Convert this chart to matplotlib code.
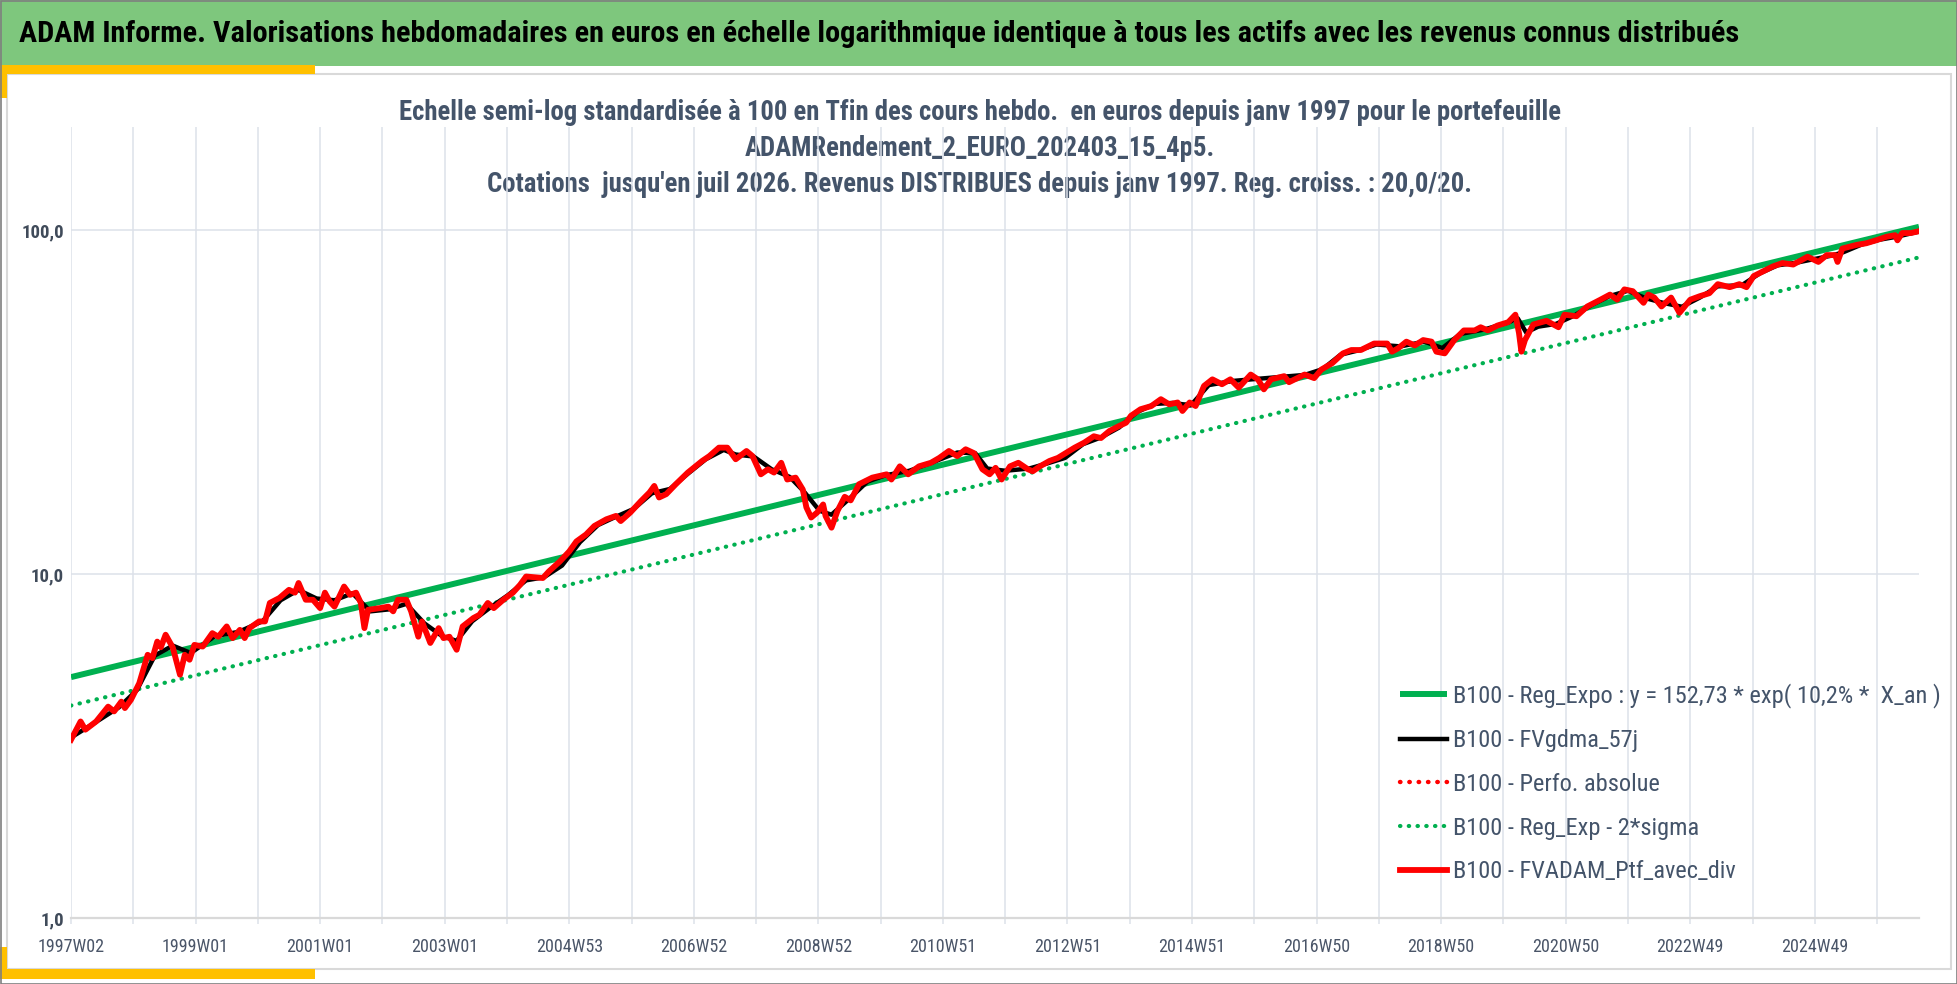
import matplotlib
matplotlib.use("Agg")
import matplotlib.pyplot as plt
from matplotlib import font_manager as fm
from matplotlib.font_manager import FontProperties
from matplotlib.patches import Rectangle
from matplotlib.ticker import FixedLocator, FuncFormatter, NullLocator

# ---------------- DATA ----------------
title_banner = ("ADAM Informe. Valorisations hebdomadaires en euros en échelle logarithmique "
                "identique à tous les actifs avec les revenus connus distribués")
subtitle_lines = [
    "Echelle semi-log standardisée à 100 en Tfin des cours hebdo.  en euros depuis janv 1997 pour le portefeuille",
    "ADAMRendement_2_EURO_202403_15_4p5.",
    "Cotations  jusqu'en juil 2026. Revenus DISTRIBUES depuis janv 1997. Reg. croiss. : 20,0/20.",
]
legend_labels = [
    "B100 - Reg_Expo : y = 152,73 * exp( 10,2% *  X_an )",
    "B100 - FVgdma_57j",
    "B100 - Perfo. absolue",
    "B100 - Reg_Exp - 2*sigma",
    "B100 - FVADAM_Ptf_avec_div",
]
x_tick_labels = ["1997W02", "1999W01", "2001W01", "2003W01", "2004W53", "2006W52",
                 "2008W52", "2010W51", "2012W51", "2014W51", "2016W50", "2018W50",
                 "2020W50", "2022W49", "2024W49"]
x_tick_pos = [0, 104, 208, 312, 416, 520, 624, 728, 832, 936, 1040, 1144, 1248, 1352, 1456]
x_grid_minor = [52, 156, 260, 364, 468, 572, 676, 780, 884, 988, 1092, 1196, 1300, 1404, 1508]
last_week = 1543

# regression (two ends of the straight line in log scale)
reg_idx = [0, 1543]
reg_val = [5.02, 102.5]
reg2s_val = [4.15, 83.5]

# FVADAM_Ptf_avec_div (week index, value)
red_idx = [0, 8, 12, 21, 31, 36, 42, 45, 50, 57, 64, 68, 72, 75, 79, 85, 91, 95, 99, 103,
           110, 118, 123, 130, 135, 141, 145, 149, 157, 162, 166, 174, 182, 187, 190, 196,
           202, 208, 212, 216, 220, 228, 233, 238, 242, 245, 248, 258, 265, 269, 273, 280,
           284, 290, 293, 300, 307, 311, 316, 322, 327, 336, 341, 348, 353, 361, 369, 375,
           380, 394, 399, 408, 416, 422, 430, 437, 447, 455, 459, 467, 476, 483, 487, 491,
           497, 505, 515, 527, 533, 541, 548, 555, 564, 569, 576, 582, 587, 593, 598, 605,
           611, 614, 618, 623, 628, 630, 635, 640, 646, 651, 658, 669, 681, 685, 692, 699,
           708, 718, 725, 733, 740, 747, 754, 761, 767, 772, 777, 784, 791, 799, 803, 809,
           817, 824, 838, 846, 854, 860, 867, 875, 881, 885, 893, 902, 910, 917, 924, 928,
           934, 939, 946, 953, 961, 968, 975, 985, 991, 996, 1002, 1013, 1017, 1030, 1038,
           1044, 1053, 1062, 1069, 1077, 1088, 1099, 1103, 1108, 1115, 1122, 1129, 1136,
           1140, 1147, 1155, 1163, 1172, 1177, 1183, 1191, 1200, 1206, 1209, 1211, 1214,
           1221, 1232, 1242, 1247, 1257, 1266, 1277, 1285, 1291, 1297, 1304, 1313, 1317,
           1322, 1328, 1336, 1343, 1352, 1360, 1368, 1375, 1385, 1393, 1399, 1405, 1413,
           1421, 1429, 1438, 1445, 1450, 1459, 1466, 1473, 1475, 1479, 1491, 1499, 1507,
           1516, 1523, 1525, 1529, 1536, 1543]
red_val = [3.30, 3.73, 3.53, 3.73, 4.12, 3.99, 4.26, 4.08, 4.31, 4.82, 5.83, 5.70, 6.37, 6.13,
           6.67, 6.12, 5.10, 5.83, 5.64, 6.23, 6.16, 6.74, 6.58, 7.05, 6.52, 6.89, 6.52, 6.97,
           7.29, 7.29, 8.25, 8.53, 9.01, 8.84, 9.43, 8.43, 8.43, 7.97, 8.84, 8.33, 8.05, 9.21,
           8.71, 8.84, 8.25, 6.97, 7.88, 7.97, 8.05, 7.80, 8.43, 8.43, 7.80, 6.58, 7.29, 6.31,
           6.97, 6.52, 6.58, 6.03, 7.05, 7.46, 7.62, 8.25, 7.97, 8.43, 8.84, 9.32, 9.85, 9.75,
           10.19, 10.88, 11.65, 12.46, 13.05, 13.82, 14.45, 14.78, 14.28, 15.12, 16.34, 17.29,
           18.07, 16.72, 17.10, 18.28, 19.76, 21.36, 22.07, 23.35, 23.35, 21.60, 22.83, 22.07,
           19.53, 20.20, 19.76, 21.10, 18.86, 19.10, 17.64, 15.65, 14.62, 15.12, 15.96, 14.78,
           13.66, 15.29, 16.80, 16.40, 18.28, 19.10, 19.53, 18.86, 20.60, 19.53, 20.60, 21.10,
           21.80, 22.83, 22.07, 23.10, 22.50, 20.20, 19.53, 20.40, 18.86, 20.60, 21.10, 20.20,
           19.93, 20.60, 21.36, 21.80, 23.35, 24.15, 25.20, 24.90, 26.10, 26.98, 27.60, 28.90,
           30.20, 30.85, 32.30, 31.20, 31.60, 29.85, 31.60, 30.85, 35.30, 36.90, 35.70, 36.90,
           34.90, 38.10, 36.90, 34.50, 36.90, 37.70, 36.20, 38.10, 37.20, 39.40, 41.10, 43.90,
           44.90, 44.90, 46.90, 46.90, 44.40, 45.40, 47.50, 46.30, 48.00, 47.50, 44.40, 43.90,
           48.00, 51.20, 51.20, 52.30, 51.20, 52.90, 54.10, 56.90, 50.30, 44.40, 48.00, 53.30,
           54.60, 52.30, 56.90, 56.30, 60.10, 62.90, 65.10, 62.90, 67.40, 66.60, 61.60, 65.10,
           63.80, 60.10, 63.80, 57.60, 62.90, 64.40, 65.70, 69.80, 68.40, 69.80, 68.40, 73.70,
           76.10, 78.60, 80.40, 79.60, 82.10, 83.90, 81.00, 84.80, 84.80, 81.00, 88.60, 90.80,
           91.80, 93.60, 95.90, 96.90, 93.60, 98.30, 98.30, 99.50]

# FVgdma_57j (smoother moving-average line, week index, value)
black_idx = [0, 20, 40, 55, 70, 85, 100, 120, 140, 160, 175, 190, 205, 220, 235, 250, 265,
             280, 295, 310, 322, 335, 350, 365, 380, 395, 410, 425, 440, 455, 470, 485, 500,
             515, 530, 545, 555, 570, 585, 600, 612, 625, 635, 650, 665, 680, 700, 720, 740,
             755, 765, 780, 800, 815, 830, 845, 860, 875, 890, 905, 920, 935, 950, 970, 990,
             1010, 1030, 1045, 1060, 1075, 1090, 1110, 1130, 1145, 1160, 1180, 1200, 1208,
             1215, 1225, 1240, 1255, 1270, 1285, 1300, 1315, 1330, 1345, 1360, 1375, 1395,
             1410, 1425, 1440, 1455, 1470, 1480, 1495, 1510, 1525, 1543]
black_val = [3.35, 3.70, 4.10, 4.60, 5.80, 6.20, 5.90, 6.60, 6.80, 7.30, 8.40, 9.00, 8.50,
             8.40, 8.80, 7.80, 7.90, 8.20, 7.20, 6.60, 6.40, 7.30, 8.00, 8.70, 9.60, 9.80,
             10.60, 12.40, 13.90, 14.70, 15.50, 17.20, 17.70, 19.60, 21.60, 23.00, 22.30,
             22.00, 20.20, 19.20, 17.40, 15.30, 14.90, 16.60, 18.60, 19.40, 20.00, 21.20,
             22.60, 22.50, 20.30, 20.00, 20.30, 21.00, 21.80, 23.90, 25.00, 26.70, 29.60,
             31.30, 31.50, 31.00, 35.50, 36.50, 37.00, 37.50, 38.00, 39.50, 43.50, 44.80,
             46.60, 46.00, 47.50, 45.50, 50.00, 51.50, 54.00, 55.50, 50.50, 52.50, 53.50,
             56.50, 60.80, 64.50, 66.80, 63.50, 61.50, 60.00, 63.80, 68.80, 69.30, 75.00,
             79.20, 80.50, 82.50, 84.50, 86.50, 91.00, 94.00, 96.00, 99.30]

# ---------------- FONTS ----------------
def _is_bold(w):
    return w in ("bold", "heavy", "black", "demibold") or (isinstance(w, int) and w >= 600) \
        or (isinstance(w, str) and w.isdigit() and int(w) >= 600)

def _is_regular(w):
    return w in ("normal", "regular", "book", "400", 400)

def _narrow(f):
    s = f.stretch
    if isinstance(s, str):
        if s.isdigit():
            return int(s) < 500
        return "condensed" in s
    return s < 500

def pick_font(bold):
    prefs = ["Liberation Sans Narrow", "Roboto Condensed", "Open Sans Condensed",
             "Noto Sans", "DejaVu Sans", "Open Sans", "Roboto", "Lato", "Liberation Sans"]
    fl = fm.fontManager.ttflist
    for name in prefs:
        for f in fl:
            if f.name != name or f.style != "normal":
                continue
            if ("Narrow" not in name and "Condensed" not in name) and not _narrow(f):
                continue
            if bold and _is_bold(f.weight):
                return f.fname
            if not bold and _is_regular(f.weight):
                return f.fname
    return None

reg_path = pick_font(False)
bold_path = pick_font(True)

def fp(bold, size):
    p = bold_path if bold else reg_path
    if p:
        return FontProperties(fname=p, size=size)
    return FontProperties(family="Liberation Sans", weight="bold" if bold else "normal",
                          size=size)

# ---------------- FIGURE ----------------
W, H = 1958, 984
fig = plt.figure(figsize=(W / 100, H / 100), dpi=100)
fig.patch.set_facecolor("white")

bg = fig.add_axes([0, 0, 1, 1], zorder=0)
bg.set_xlim(0, W)
bg.set_ylim(H, 0)
bg.axis("off")

green_banner = "#7EC77D"
gold = "#FFC000"
bg.add_patch(Rectangle((0, 0), W, 66, facecolor=green_banner, edgecolor="none"))
bg.add_patch(Rectangle((7, 74), W - 14, 895, facecolor="white", edgecolor="#D9D9D9", lw=1.5))
bg.add_patch(Rectangle((0, 65), 315, 9, facecolor=gold, edgecolor="none"))
bg.add_patch(Rectangle((0, 65), 7, 33, facecolor=gold, edgecolor="none"))
bg.add_patch(Rectangle((0, 969), 315, 10, facecolor=gold, edgecolor="none"))
bg.add_patch(Rectangle((0, 947), 7, 32, facecolor=gold, edgecolor="none"))
bg.add_patch(Rectangle((0.5, 0.5), W - 1, H - 1, facecolor="none", edgecolor="#7F7F7F", lw=1.2))

t_banner = bg.text(19, 34, title_banner, ha="left", va="center", color="black",
                   fontproperties=fp(True, 20))

sub_color = "#44546A"
sub_texts = []
for i, line in enumerate(subtitle_lines):
    sub_texts.append(bg.text(980, 112 + 36 * i, line, ha="center", va="center",
                             color=sub_color, fontproperties=fp(True, 15), zorder=5))

# ---------------- MAIN AXES ----------------
L, R, T, B = 71, 1919, 127, 918
ax = fig.add_axes([L / W, 1 - B / H, (R - L) / W, (B - T) / H], zorder=2)
ax.patch.set_alpha(0)
ax.set_yscale("log")
ax.set_ylim(1, 200)
ax.set_xlim(0, last_week)

grid_c = "#DDE1EA"
ax.xaxis.set_major_locator(FixedLocator(x_tick_pos))
ax.xaxis.set_minor_locator(FixedLocator(x_grid_minor))
ax.set_xticklabels([])
ax.yaxis.set_major_locator(FixedLocator([1, 10, 100]))
ax.yaxis.set_minor_locator(NullLocator())
ax.yaxis.set_major_formatter(FuncFormatter(lambda v, p: f"{v:.1f}".replace(".", ",")))
ax.grid(True, which="major", axis="both", color=grid_c, lw=1.1)
ax.grid(True, which="minor", axis="x", color=grid_c, lw=1.1)
ax.tick_params(axis="x", which="both", length=4, width=1.1, color=grid_c, direction="out")
ax.tick_params(axis="y", length=0, pad=5)
for s in ["top", "right", "left"]:
    ax.spines[s].set_visible(False)
ax.spines["bottom"].set_color("#D9D9D9")
ax.spines["bottom"].set_linewidth(1.6)
for lab in ax.get_yticklabels():
    lab.set_fontproperties(fp(True, 13.5))
    lab.set_color("#404B5A")

# x tick labels as text (to use the chosen font)
for pos, lab in zip(x_tick_pos, x_tick_labels):
    ax.text(pos, -0.037, lab, transform=ax.get_xaxis_transform(), ha="center", va="center",
            color="#4A5568", fontproperties=fp(False, 13), clip_on=False)

green = "#00B050"
h1, = ax.plot(reg_idx, reg_val, color=green, lw=4.3, solid_capstyle="butt", zorder=3)
h4, = ax.plot(reg_idx, reg2s_val, color=green, lw=3.0, linestyle=(0, (0.1, 2.0)),
              dash_capstyle="round", zorder=3)
h2, = ax.plot(black_idx, black_val, color="black", lw=3.2, zorder=4)
h3, = ax.plot(red_idx, red_val, color="#FF0000", lw=3.2, linestyle=(0, (0.1, 2.0)),
              dash_capstyle="round", zorder=5)
h5, = ax.plot(red_idx, red_val, color="#FF0000", lw=4.2, solid_joinstyle="round", zorder=6)

# ---------------- FIT TEXT WIDTHS ----------------
fig.canvas.draw()
rnd = fig.canvas.get_renderer()

def fit(t, target):
    w = t.get_window_extent(rnd).width
    t.set_fontsize(t.get_fontsize() * target / w)

fit(t_banner, 1712)
fit(sub_texts[0], 1164)
for t in sub_texts[1:]:
    t.set_fontsize(sub_texts[0].get_fontsize())

# legend font size fitted to the reference width of the first label (~486 px)
probe = bg.text(0, 0, legend_labels[0], fontproperties=fp(False, 13.5))
pw = probe.get_window_extent(rnd).width
probe.remove()
leg_size = 13.5 * 486 / pw
leg_px = leg_size * 100 / 72
# row pitch in reference is ~43.5 px
lspacing = max(0.2, (43.5 - 1.2 * leg_px) / leg_px + 6.5 / leg_px)
leg = ax.legend([h1, h2, h3, h4, h5], legend_labels, loc="upper left",
                bbox_to_anchor=(1400 / W, 1 - (698 - 0.6 * leg_px) / H),
                bbox_transform=fig.transFigure,
                frameon=False, borderpad=0, borderaxespad=0,
                handlelength=47 / leg_px, handletextpad=6 / leg_px,
                labelspacing=lspacing, prop=fp(False, leg_size))
for txt in leg.get_texts():
    txt.set_color("#44546A")

fig.savefig("out.png", dpi=100, facecolor="white")
